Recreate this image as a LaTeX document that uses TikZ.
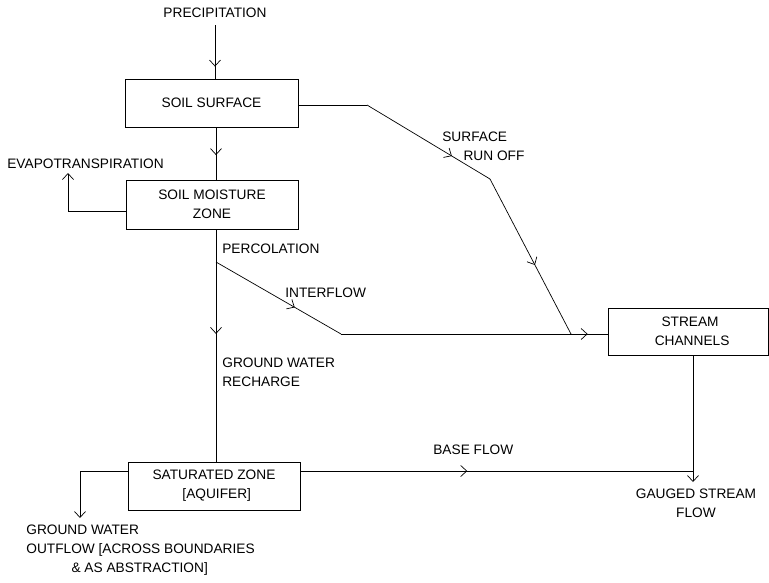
\documentclass[tikz,border=0pt]{standalone}
\usepackage{fontspec}
\setmainfont{Liberation Sans}
\usetikzlibrary{arrows.meta,positioning,decorations.markings}

\begin{document}
\begin{tikzpicture}[x=1pt, y=-1pt, line width=0.7pt,
    every node/.style={font=\fontsize{13.7}{19}\selectfont, inner sep=0pt},
    box/.style={draw, minimum width=172pt, minimum height=48pt, align=center},
    lbl/.style={anchor=west, align=left},
    flow/.style={postaction={decorate}, decoration={markings, mark=at position #1 with {\arrow{Straight Barb[length=6pt,width=11pt]}}}},
    tip/.style={-{Straight Barb[length=6pt,width=11pt]}}]
    \useasboundingbox (0,0) rectangle (769,582);

    \node (precip) at (215,13) {PRECIPITATION};
    \node (soilSurface) [box, minimum width=173pt] at (211.5,103) {SOIL SURFACE};
    \node (soilMoisture) [box, minimum height=49pt] at (212,204.5) {SOIL MOISTURE\\ZONE};
    \node (satZone) [box] at (214,486) {SATURATED ZONE\\\hspace*{0.4em}[AQUIFER]};
    \node (streamChannels) [box, minimum width=160pt, minimum height=47pt] at (688,331.5) {\hspace*{0.3em}STREAM\\\hspace*{0.6em}CHANNELS};

    % labels
    \node (evapo) [lbl] at (7,164) {EVAPOTRANSPIRATION};
    \node (runoff) [lbl] at (442,146.5) {SURFACE\\\hspace*{1.55em}RUN OFF};
    \node (percol) [lbl] at (222,249) {PERCOLATION};
    \node (interflow) [lbl] at (285,293) {INTERFLOW};
    \node (recharge) [lbl] at (222,372) {GROUND WATER\\RECHARGE};
    \node (baseflow) [lbl] at (433,450) {BASE FLOW};
    \node (gauged) [align=center] at (696,503.5) {GAUGED STREAM\\FLOW};
    \node (outflow) [lbl] at (26,550) {GROUND WATER\\OUTFLOW [ACROSS BOUNDARIES\\\hspace*{3.3em}\& AS ABSTRACTION]};

    \coordinate (evapoTip) at (68,173);
    \coordinate (runoffA) at (367,105);
    \coordinate (runoffB) at (490,179);
    \coordinate (runoffC) at (571,334);
    \coordinate (interA) at (216,262);
    \coordinate (interB) at (341,334);
    \coordinate (baseJoin) at (693,471);
    \coordinate (gaugeTip) at (693,482);
    \coordinate (outflowTip) at (80,518);

    % Arrows
    \draw[flow=0.8, shorten <=7pt] (precip) -- (precip |- soilSurface.north);
    \draw[flow=0.53] (soilSurface.south -| interA) -- (soilMoisture.north -| interA);
    \draw[flow=0.45] (soilMoisture.south -| interA) -- (satZone.north -| interA);
    \draw[tip] ([yshift=-6.5pt]soilMoisture.west) -| (evapoTip);
    \draw ([yshift=-2pt]soilSurface.east) -- (runoffA);
    \draw[flow=0.69] (runoffA) -- (runoffB);
    \draw[flow=0.555] (runoffB) -- (runoffC);
    \draw[flow=0.63] (interA) -- (interB);
    \draw[flow=0.925] (interB) -- (interB -| streamChannels.west);
    \draw[flow=0.425] ([yshift=15pt]satZone.east) -- (baseJoin);
    \draw[tip] (streamChannels.south -| gaugeTip) -- (gaugeTip);
    \draw[tip] ([yshift=15pt]satZone.west) -| (outflowTip);
\end{tikzpicture}
\end{document}
